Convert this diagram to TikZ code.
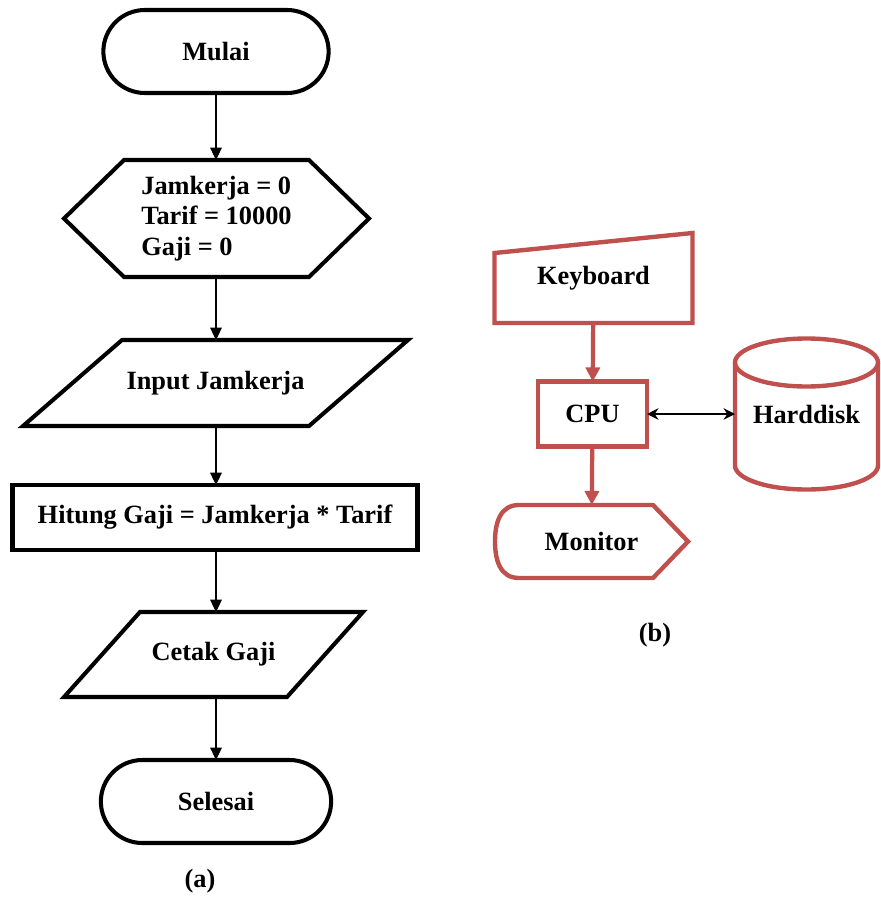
\documentclass[tikz,border=0pt]{standalone}
\usepackage{fontspec}
\setmainfont{Liberation Serif}
\usepackage{xcolor}
\usetikzlibrary{positioning, shapes.geometric, shapes.misc, arrows.meta, calc}
\definecolor{boxred}{HTML}{C0504D}

\begin{document}
\begin{tikzpicture}[
  base/.style={font=\fontsize{15}{17.5}\selectfont\bfseries, outer sep=0pt},
  terminal/.style={base, draw, line width=2.3pt, rounded rectangle,
    minimum width=4.74cm, minimum height=1.66cm},
  process/.style={base, draw, line width=2.3pt, minimum width=8.1cm, minimum height=1.3cm},
  plain/.style={base, align=left},
  outline/.style={line width=2.3pt, line join=miter},
  redbox/.style={base, draw=boxred, line width=2.5pt, minimum width=2.18cm, minimum height=1.3cm},
  redline/.style={draw=boxred, line width=2.5pt},
  arrow/.style={-{Triangle[length=7pt, width=6.5pt]}, line width=1.1pt},
  redarrow/.style={-{Triangle[length=8pt, width=8pt]}, line width=2.4pt, boxred},
  both/.style={{Stealth[length=6.5pt, width=6.5pt]}-{Stealth[length=6.5pt, width=6.5pt]}, line width=1pt},
  caption/.style={font=\fontsize{15}{17.5}\selectfont\bfseries}
]
\useasboundingbox (0,0) rectangle (17.6,-17.98);

% (a) flowchart
\node[terminal] (mulai) at (4.32, -1.03) {Mulai};
\node[plain, minimum width=6.1cm, minimum height=2.34cm] (init) at (4.33, -4.37)
  {Jamkerja = 0\\Tarif = 10000\\Gaji = 0};
\draw[outline] (init.west) -- ($(init.north west)+(1.2,0)$) -- ($(init.north east)+(-1.2,0)$)
  -- (init.east) -- ($(init.south east)+(-1.2,0)$) -- ($(init.south west)+(1.2,0)$) -- cycle;
\node[base, minimum width=7.7cm, minimum height=1.72cm] (input) at (4.31, -7.66) {Input Jamkerja};
\draw[outline] (input.south west) -- ($(input.south east)+(-1.98,0)$) -- (input.north east)
  -- ($(input.north west)+(1.98,0)$) -- cycle;
\node[process] (hitung) at (4.3, -10.35) {Hitung Gaji = Jamkerja * Tarif};
\node[base, minimum width=5.98cm, minimum height=1.7cm] (cetak) at (4.27, -13.09) {Cetak Gaji};
\draw[outline] (cetak.south west) -- ($(cetak.south east)+(-1.52,0)$) -- (cetak.north east)
  -- ($(cetak.north west)+(1.52,0)$) -- cycle;
\node[terminal, minimum width=4.84cm] (selesai) at (4.32, -16.03) {Selesai};
\node[caption] (capa) at (4.0, -17.62) {(a)};

\draw[arrow] (mulai) -- (mulai |- init.north);
\draw[arrow] (init.south -| mulai) -- (mulai |- input.north);
\draw[arrow] (input.south -| mulai) -- (mulai |- hitung.north);
\draw[arrow] (hitung.south -| mulai) -- (mulai |- cetak.north);
\draw[arrow] (cetak.south -| mulai) -- (selesai);

% (b) hardware
\node[base, minimum width=3.96cm, minimum height=1.8cm] (keyboard) at (11.87, -5.56) {Keyboard};
\draw[redline] (keyboard.south west) -- (keyboard.south east) -- (keyboard.north east)
  -- ($(keyboard.north west)+(0,-0.4)$) -- cycle;
\node[redbox] (cpu) at (11.85, -8.28) {CPU};
\node[base, minimum width=3.86cm, minimum height=1.46cm] (monitor) at (11.83, -10.83) {Monitor};
\draw[redline] ($(monitor.north west)+(0.48,0)$) -- ($(monitor.north east)+(-0.7,0)$)
  -- (monitor.east) -- ($(monitor.south east)+(-0.7,0)$) -- ($(monitor.south west)+(0.48,0)$)
  to[out=180, in=-90, looseness=1.1] (monitor.west) to[out=90, in=180, looseness=1.1] ($(monitor.north west)+(0.48,0)$) -- cycle;
\node[base, minimum width=2.86cm, minimum height=3.02cm] (hdd) at (16.13, -8.28) {Harddisk};
\draw[redline] ($(hdd.north)+(0,-0.48)$) ellipse [x radius=1.43, y radius=0.48];
\draw[redline] ($(hdd.north west)+(0,-0.48)$) -- ($(hdd.south west)+(0,0.48)$)
  arc[start angle=180, end angle=360, x radius=1.43, y radius=0.48]
  -- ($(hdd.north east)+(0,-0.48)$);
\node[caption] (capb) at (13.1, -12.7) {(b)};

\draw[redarrow] (keyboard) -- (cpu);
\draw[redarrow] (cpu) -- (monitor);
\draw[both] (cpu) -- (hdd);

\end{tikzpicture}
\end{document}
